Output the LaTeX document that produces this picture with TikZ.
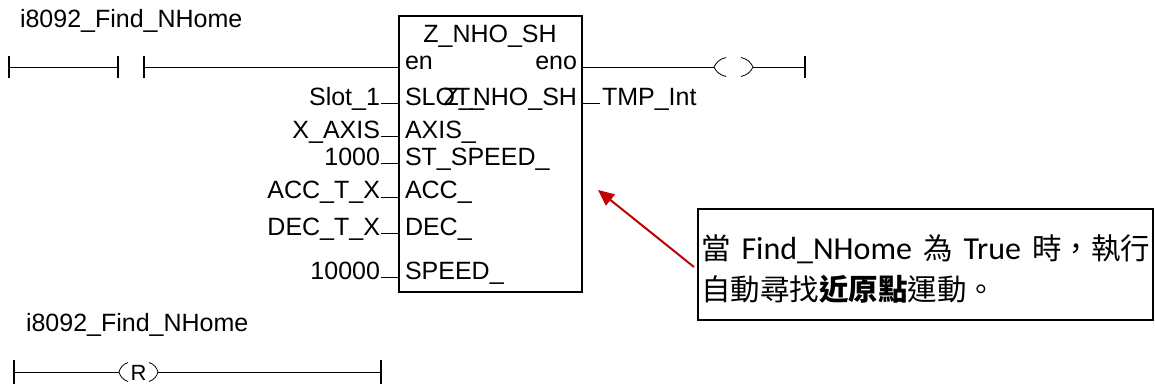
\documentclass[tikz,border=0pt]{standalone}
\usepackage{fontspec}
\setmainfont{Liberation Sans}
\newfontfamily\cjk{Noto Sans CJK TC}
\newfontfamily\lat{Carlito}
\usetikzlibrary{arrows.meta}
\definecolor{callred}{RGB}{192,0,0}
\tikzset{
  every node/.style={inner sep=0pt,outer sep=0pt,text=black},
  lbl/.style={font=\fontsize{25}{25}\selectfont},
  lblw/.style={lbl,anchor=base west},
  lble/.style={lbl,anchor=base east},
  wire/.style={draw=black,line width=1pt},
  bar/.style={draw=black,line width=1.6pt},
  fbbox/.style={draw=black,line width=2pt,minimum width=183pt,minimum height=276pt,anchor=north west},
  note/.style={draw=black,line width=1.4pt,anchor=north west,minimum width=455pt,minimum height=111pt,align=left,text width=449pt,inner xsep=3pt,
    font=\fontsize{29.5}{41.5}\selectfont\cjk,text=black},
  pointer/.style={draw=callred,line width=2pt,-{Triangle[length=16pt,width=14pt]}},
}
\begin{document}
\begin{tikzpicture}[x=1pt,y=-1pt]
\useasboundingbox (0,0) rectangle (1155,389);
% function block
\node[fbbox] (fb) at (399,16) {};
\node[lbl,anchor=base] (title) at (490,42) {Z\_NHO\_SH};
\node[lblw] (pen) at (405,69) {en};
\node[lble] (peno) at (577,69) {eno};
\node[lblw] (pslot) at (405,105) {SLOT\_};
\node[lble] (pout) at (577,105) {Z\_NHO\_SH};
\node[lblw] (paxis) at (405,138) {AXIS\_};
\node[lblw] (pst) at (405,165) {ST\_SPEED\_};
\node[lblw] (pacc) at (405,198) {ACC\_};
\node[lblw] (pdec) at (405,235) {DEC\_};
\node[lblw] (pspeed) at (405,279) {SPEED\_};
% inputs
\node[lble] (vslot) at (380,105) {Slot\_1};
\node[lble] (vaxis) at (380,138) {X\_AXIS};
\node[lble] (vst) at (380,165) {1000};
\node[lble] (vacc) at (380,198) {ACC\_T\_X};
\node[lble] (vdec) at (380,235) {DEC\_T\_X};
\node[lble] (vspeed) at (380,279) {10000};
\node[lblw] (vout) at (602,105) {TMP\_Int};
\foreach \n/\y in {slot/103.5,axis/136.5,st/163.5,acc/197,dec/233,speed/277}{
  \coordinate (a\n) at (381,\y);
  \coordinate (b\n) at (399,\y);
  \draw[wire] (a\n) -- (b\n);
}
\coordinate (oa) at (582,103.5);
\coordinate (ob) at (600,103.5);
\draw[wire] (oa) -- (ob);
% top rung
\node[lblw] (tag1) at (20,27) {i8092\_Find\_NHome};
\coordinate (c1) at (9,67);
\coordinate (c2) at (118,67);
\coordinate (c3) at (144,67);
\coordinate (c4) at (399,67);
\draw[wire] (c1) -- (c2);
\draw[wire] (c3) -- (c4);
\foreach \c in {c1,c2,c3}{\draw[bar] ([yshift=-11pt]\c.center) -- ([yshift=11pt]\c.center);}
\coordinate (e1) at (582,67);
\coordinate (e2) at (714,67);
\coordinate (e3) at (753,67);
\coordinate (e4) at (805,67);
\draw[wire] (e1) -- (e2);
\draw[wire] (e3) -- (e4);
\draw[bar] ([yshift=-11pt]e4.center) -- ([yshift=11pt]e4.center);
\draw[wire,line width=.8pt] (726,57.5) .. controls (719,59) and (716,63) .. (e2) .. controls (716,71) and (719,75) .. (726,76.5);
\draw[wire,line width=.8pt] (741,57.5) .. controls (748,59) and (751,63) .. (e3) .. controls (751,71) and (748,75) .. (741,76.5);
% bottom rung
\node[lblw] (tag2) at (26,331) {i8092\_Find\_NHome};
\coordinate (r1) at (14,372);
\coordinate (r2) at (119,372);
\coordinate (r3) at (158,372);
\coordinate (r4) at (381,372);
\draw[wire] (r1) -- (r2);
\draw[wire] (r3) -- (r4);
\foreach \c in {r1,r4}{\draw[bar] ([yshift=-12pt]\c.center) -- ([yshift=12pt]\c.center);}
\draw[wire,line width=.8pt] (128,362.5) .. controls (123,364) and (120,368) .. (r2) .. controls (120,376) and (123,380) .. (128,381.5);
\draw[wire,line width=.8pt] (149,362.5) .. controls (154,364) and (157,368) .. (r3) .. controls (157,376) and (154,380) .. (149,381.5);
\node[anchor=base,font=\fontsize{22}{22}\selectfont] (rr) at (138.5,380) {R};
% callout
\node[note] (callout) at (698,209) {\makebox[449pt][l]{\rule{0pt}{34pt}當\hspace{11pt}{\fontsize{32}{41.5}\selectfont\lat Find\_NHome}\hspace{11pt}為\hspace{11pt}{\fontsize{32}{41.5}\selectfont\lat True}\hspace{11pt}時，執行}\\自動尋找{\bfseries 近原點}運動。};
\coordinate (tip) at (598,190);
\draw[pointer] (callout.west |- 0,267) ++(-4,0) -- (tip);
\end{tikzpicture}
\end{document}
